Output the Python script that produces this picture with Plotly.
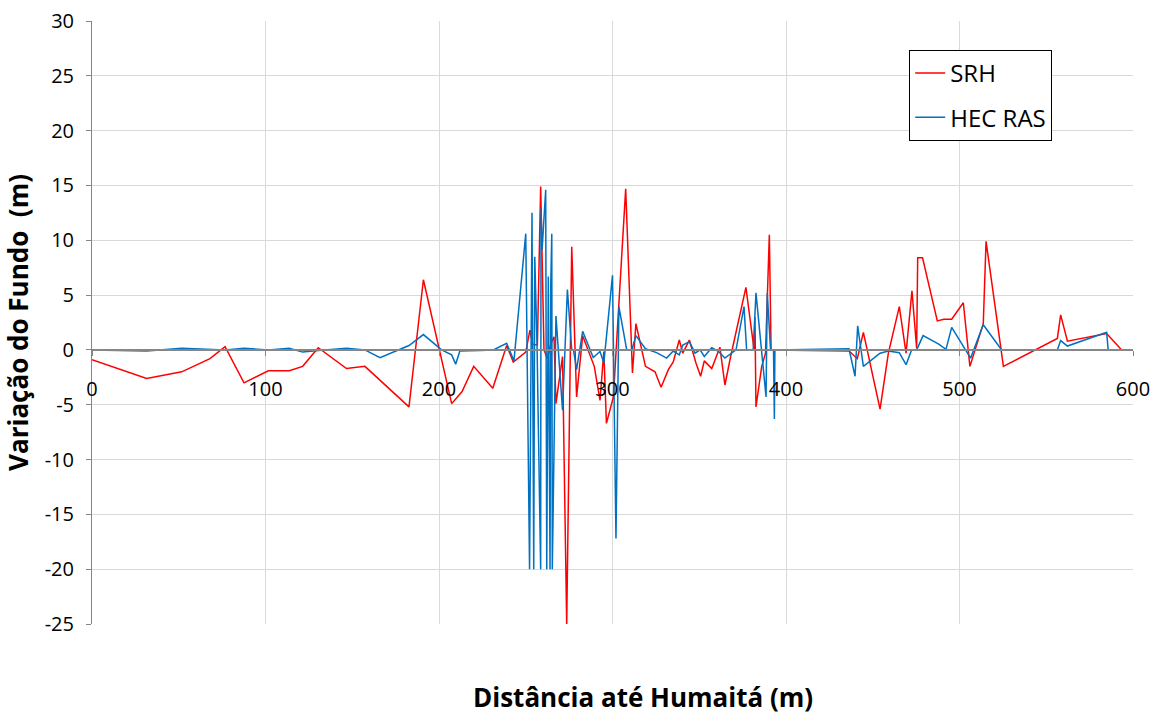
import plotly.graph_objects as go

# SRH series
srh_x = [0, 31.5, 51.7, 68, 76.7, 87.6, 101.6, 113.7, 121.4, 130.4, 146.7, 157.3, 182.7, 191, 207.3,
         213.3, 220, 231, 239, 242.8, 250, 252.4, 254, 256.7, 258.6, 260.5, 262.5, 264.5, 266.3, 267.4,
         271.2, 273.6, 276.5, 279.3, 282.8, 289.5, 292.8, 295, 296.5, 300.5, 307.6, 311.5, 313.5, 319,
         324.5, 328, 332.2, 335, 338.5, 340.5, 344.3, 348.1, 350.8, 352.9, 357.2, 361.9, 364.8, 368.1,
         376.9, 381.6, 382.1, 382.7, 386, 388.2, 390.4, 391.4, 436.3, 441.1, 444.6, 454.2, 459, 465.3,
         469.2, 472.6, 475.3, 475.9, 478.7, 487.2, 491, 495.5, 502.2, 506, 513.7, 515.3, 525.3, 556.4,
         558.3, 562.2, 584.8, 593.5]
srh_y = [-0.9, -2.6, -2.0, -0.8, 0.3, -3.0, -1.9, -1.9, -1.5, 0.2, -1.7, -1.5, -5.2, 6.4, -4.9,
         -3.8, -1.5, -3.5, 0.4, -1.1, -0.2, 1.8, 0.5, 0.45, 14.9, 0.0, -0.8, 0.6, 1.2, -4.9,
         -0.6, -25.0, 9.4, -4.3, 1.3, -1.5, -4.6, -0.15, -6.7, -4.3, 14.7, -2.1, 2.4, -1.5,
         -2.0, -3.4, -1.8, -1.1, 0.9, -0.3, 0.9, -1.2, -2.4, -1.0, -1.7, 0.25, -3.2, -0.6,
         5.7, 0.0, 3.0, -5.2, -1.5, -0.3, 10.5, 0.0, -0.1, -0.8, 1.6, -5.4, -0.3, 3.95,
         -0.3, 5.4, 0.15, 8.4, 8.4, 2.65, 2.8, 2.8, 4.3, -1.5, 2.4, 9.9, -1.5, 1.05,
         3.2, 0.8, 1.5, 0.0]

# HEC RAS series
hec_x = [0, 31.5, 51.7, 76.7, 87.6, 101.6, 113.7, 121.4, 130.4, 146.7, 157.3, 166, 182.7, 191, 201.5,
         207.3, 209.6, 212, 223.6, 231.3, 239, 243.2, 250, 252.2, 253.6, 254.6, 255.2, 256.5, 258.6,
         258.8, 259.4, 260.7, 261.5, 262.1, 263, 264, 264.4, 265, 265.3, 266.3, 267.4, 271.2, 274,
         276.5, 277.5, 279.3, 282.8, 288.9, 292.8, 295, 300, 302, 303.7, 308.2, 311.1, 313.5, 319,
         325.4, 331.2, 335, 338.5, 340.5, 344.3, 347.6, 350.5, 352.9, 357.2, 360.8, 364.8, 371.2,
         375.8, 377.3, 381.1, 382.7, 388.5, 389.2, 391.1, 392.8, 393.3, 393.6, 436.3, 439.8, 441.3,
         444.6, 454.2, 459, 465.3, 469.2, 472.4, 475.3, 479, 487.8, 492.2, 495.5, 506.4, 513.7,
         524.3, 556.4, 558.3, 562.2, 584.8, 585.7, 593.5]
hec_y = [0.0, -0.1, 0.15, 0.0, 0.15, 0.0, 0.15, -0.2, -0.05, 0.15, 0.0, -0.7, 0.4, 1.4, 0.0,
         -0.45, -1.3, -0.1, -0.05, 0.0, 0.6, -1.0, 10.6, -20.0, 12.5, -20.0, 8.5, 0.5, -20.0,
         12.9, 9.1, 12.3, 14.6, -20.0, 6.7, -20.0, 5.8, 10.6, -20.0, -9.0, 3.1, -5.5, 5.5,
         0.0, 0.0, -1.8, 1.7, -0.7, -0.15, -1.2, 6.8, -17.2, 3.95, 0.0, 0.0, 1.3, 0.1,
         -0.25, -0.75, -0.1, -0.45, 0.45, 0.75, -0.3, 0.0, -0.6, 0.2, -0.1, -0.75, 0.0,
         3.95, 0.0, 0.0, 5.2, -4.3, 5.2, 0.0, 0.0, -6.3, 0.0, 0.1, -2.4, 2.2,
         -1.5, -0.3, -0.1, -0.25, -1.35, 0.0, 0.0, 1.3, 0.55, 0.05, 2.05, -0.75, 2.3,
         0.0, 0.0, 0.85, 0.35, 1.6, 0.0, 0.0]

x_ticks = [0, 100, 200, 300, 400, 500, 600]
y_ticks = [-25, -20, -15, -10, -5, 0, 5, 10, 15, 20, 25, 30]

FONT = "Open Sans"
AXIS_GRAY = "#868686"
GRID = "#d9d9d9"

fig = go.Figure()
fig.add_trace(go.Scatter(x=srh_x, y=srh_y, mode="lines", name="SRH", legendgroup="srh",
                         line=dict(color="#ff0000", width=1.5)))
fig.add_trace(go.Scatter(x=hec_x, y=hec_y, mode="lines", name="HEC RAS", legendgroup="hec",
                         line=dict(color="#0070c0", width=1.5)))

fig.update_layout(
    width=1157, height=717,
    margin=dict(l=92, r=24, t=21, b=93, autoexpand=False),
    paper_bgcolor="white", plot_bgcolor="white",
    font=dict(family=FONT, size=20, color="black"),
    showlegend=True,
    legend=dict(x=0.785, y=0.952, xanchor="left", yanchor="top",
                bgcolor="white", bordercolor="black", borderwidth=1,
                font=dict(family=FONT, size=24, color="black"),
                traceorder="grouped", tracegroupgap=10, itemwidth=30),
    xaxis=dict(range=[0, 600], tickvals=x_ticks, ticktext=[str(v) for v in x_ticks],
               anchor="free", position=25 / 55, automargin=False,
               showline=True, linecolor=AXIS_GRAY, linewidth=2,
               ticks="outside", ticklen=5, tickcolor=AXIS_GRAY, tickwidth=1,
               ticklabelstandoff=16,
               showgrid=True, gridcolor=GRID, gridwidth=1, zeroline=False,
               tickfont=dict(family=FONT, size=20, color="black")),
    yaxis=dict(range=[-25, 30], tickvals=y_ticks, ticktext=[str(v) for v in y_ticks],
               automargin=False,
               showline=True, linecolor=AXIS_GRAY, linewidth=1,
               ticks="outside", ticklen=5, tickcolor=AXIS_GRAY,
               showgrid=True, gridcolor=GRID, gridwidth=1, zeroline=False,
               ticklabelstandoff=8,
               tickfont=dict(family=FONT, size=20, color="black"),
               title=dict(text="<b>Variação do Fundo  (m)</b>", standoff=8,
                          font=dict(family=FONT, size=26, color="black"))),
)

fig.add_annotation(text="<b>Distância até Humaitá (m)</b>", xref="paper", yref="paper",
                   x=0.529, y=-0.121, xanchor="center", yanchor="middle", showarrow=False,
                   font=dict(family=FONT, size=26, color="black"))

fig.write_html("out.html")
